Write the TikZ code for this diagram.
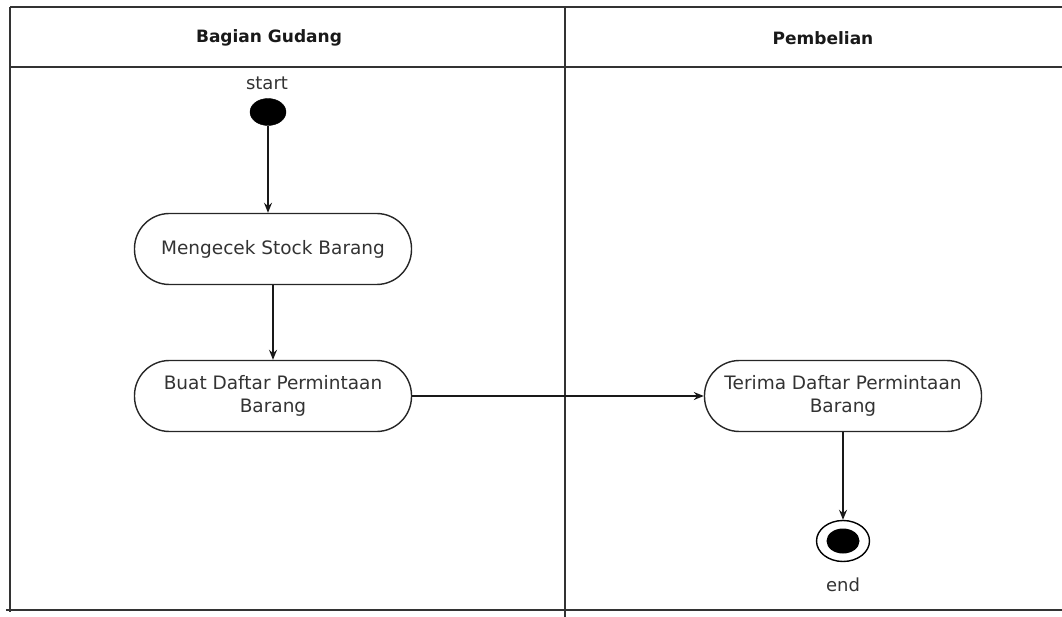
\documentclass[tikz,border=0pt]{standalone}
\usepackage{fontspec}
\setmainfont{DejaVu Sans}
\usetikzlibrary{arrows.meta,shapes.geometric}
\begin{document}
\begin{tikzpicture}[x=1pt,y=-1pt,
  frameline/.style={line width=2.2pt, draw=black!80},
  lanehead/.style={font=\fontsize{17}{20}\selectfont\bfseries, text=black!90},
  act/.style={draw=black!85, line width=1.4pt, rectangle, rounded corners=35pt,
    minimum width=277pt, minimum height=71pt, align=center, text=black!80,
    font=\fontsize{18.5}{23}\selectfont, inner sep=0pt},
  lbl/.style={text=black!80, font=\fontsize{18}{22}\selectfont, inner sep=0pt},
  flow/.style={line width=1.4pt, draw=black!90, -{Stealth[length=10pt,width=8pt]}}]
\useasboundingbox (0,0) rectangle (1062,617);
% frame
\draw[frameline] (10,7) -- (1062,7);
\draw[frameline] (10,67) -- (1062,67);
\draw[frameline] (10,7) -- (10,612);
\draw[frameline] (565,7) -- (565,617);
\draw[frameline] (6,610) -- (1062,610);
% headers
\node[lanehead] (h1) at (269,38) {Bagian Gudang};
\node[lanehead] (h2) at (823,38) {Pembelian};
% nodes
\node[lbl] (startlbl) at (267,83) {start};
\node[ellipse, fill=black, draw=black, minimum width=36pt, minimum height=27pt, inner sep=0pt] (start) at (268,112) {};
\node[act] (check) at (273,249) {Mengecek Stock Barang};
\node[act] (req) at (273,396) {Buat Daftar Permintaan\\Barang};
\node[act] (recv) at (843,396) {Terima Daftar Permintaan\\Barang};
\node[ellipse, draw=black, line width=1.4pt, minimum width=53pt, minimum height=41pt, inner sep=0pt] (end) at (843,541) {};
\node[ellipse, fill=black, minimum width=33pt, minimum height=25pt, inner sep=0pt] (endin) at (end.center) {};
\node[lbl] (endlbl) at (843,585) {end};
% connectors
\draw[flow] (start) -- (start |- check.north);
\draw[flow] (check) -- (req);
\draw[flow] (req) -- (recv);
\draw[flow] (recv) -- (end);
\end{tikzpicture}
\end{document}
